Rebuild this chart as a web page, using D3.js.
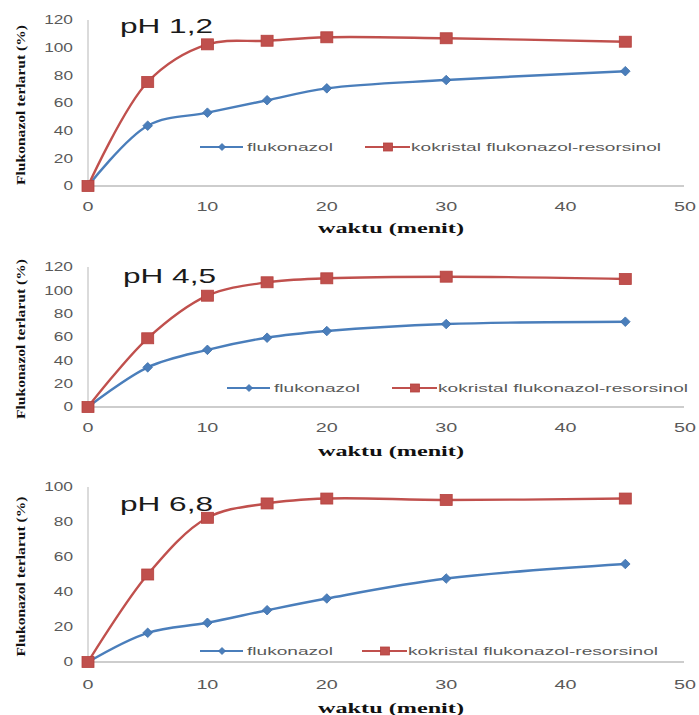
<!DOCTYPE html>
<html>
<head>
<meta charset="utf-8">
<script src="https://cdn.jsdelivr.net/npm/d3@7"></script>
<style>
  html, body { margin: 0; padding: 0; background: #fff; }
  svg { display: block; }
</style>
</head>
<body>
<svg id="chart" width="699" height="715"></svg>
<script>
// ---- data ----
const time = [0, 5, 10, 15, 20, 30, 45];
const flukonazol_pH12 = [0, 43.6, 53, 62, 70.6, 76.6, 83];
const kokristal_pH12 = [0, 75.2, 102.4, 105, 107.5, 106.8, 104.3];
const flukonazol_pH45 = [0, 34, 49, 59.4, 65.1, 71.1, 73.1];
const kokristal_pH45 = [0, 58.9, 95.4, 106.9, 110.3, 111.7, 109.7];
const flukonazol_pH68 = [0, 16.7, 22.4, 29.6, 36.3, 47.7, 56];
const kokristal_pH68 = [0, 50, 82.4, 90.6, 93.4, 92.6, 93.4];
const panelTitles = ["pH 1,2", "pH 4,5", "pH 6,8"];
const seriesNames = ["flukonazol", "kokristal flukonazol-resorsinol"];
const xTicks = [0, 10, 20, 30, 40, 50];
const yTicks120 = [0, 20, 40, 60, 80, 100, 120];
const yTicks100 = [0, 20, 40, 60, 80, 100];
const xTitle = "waktu  (menit)";
const yTitle = "Flukonazol terlarut (%)";

// ---- layout ----
const BLUE = "#4a7ebb", RED = "#c0504d";
const panels = [
  { title: panelTitles[0], blue: flukonazol_pH12, red: kokristal_pH12, yTicks: yTicks120, yMax: 120,
    y0: 186, y1: 20, titleX: 120, titleY: 33, legY: 147, legB: 200, legR: 365, xLabY: 211, xTitleY: 233 },
  { title: panelTitles[1], blue: flukonazol_pH45, red: kokristal_pH45, yTicks: yTicks120, yMax: 120,
    y0: 407, y1: 267, titleX: 123, titleY: 283, legY: 388, legB: 227, legR: 392, xLabY: 432, xTitleY: 456 },
  { title: panelTitles[2], blue: flukonazol_pH68, red: kokristal_pH68, yTicks: yTicks100, yMax: 100,
    y0: 662, y1: 487, titleX: 120, titleY: 511, legY: 651, legB: 200, legR: 362, xLabY: 689, xTitleY: 713 }
];

const svg = d3.select("#chart");
const x = d3.scaleLinear().domain([0, 50]).range([88, 685]);
const sans = "'Liberation Sans', Arial, sans-serif";
const serif = "'Liberation Serif', 'Times New Roman', serif";

function diamond(g, cx, cy, r) {
  g.append("path")
    .attr("d", `M${cx},${cy - r}L${cx + r},${cy}L${cx},${cy + r}L${cx - r},${cy}Z`)
    .attr("fill", BLUE).attr("stroke", "#3d6fa8").attr("stroke-width", 0.8);
}
function square(g, cx, cy, w, h) {
  g.append("rect").attr("x", cx - w / 2).attr("y", cy - h / 2).attr("width", w).attr("height", h)
    .attr("fill", RED).attr("stroke", "#b5403d").attr("stroke-width", 0.8);
}

panels.forEach(p => {
  const g = svg.append("g");
  const y = d3.scaleLinear().domain([0, p.yMax]).range([p.y0, p.y1]);

  // axes lines
  g.append("line").attr("x1", x(0)).attr("x2", x(0)).attr("y1", y(p.yMax)).attr("y2", y(0))
    .attr("stroke", "#c8c8c8").attr("stroke-width", 1.3);
  g.append("line").attr("x1", x(0)).attr("x2", x(50) - 1).attr("y1", y(0)).attr("y2", y(0))
    .attr("stroke", "#bdbdbd").attr("stroke-width", 1.5);

  // y tick labels
  g.selectAll(".yt").data(p.yTicks).enter().append("text")
    .attr("x", 73).attr("y", d => y(d)).attr("dy", "0.35em")
    .attr("text-anchor", "end")
    .attr("font-family", sans).attr("font-size", 12).attr("fill", "#595959")
    .attr("textLength", d => String(d).length * 9.6).attr("lengthAdjust", "spacingAndGlyphs")
    .text(d => d);

  // x tick labels
  g.selectAll(".xt").data(xTicks).enter().append("text")
    .attr("x", d => x(d)).attr("y", p.xLabY)
    .attr("text-anchor", "middle")
    .attr("font-family", sans).attr("font-size", 12).attr("fill", "#595959")
    .attr("textLength", d => String(d).length * 11).attr("lengthAdjust", "spacingAndGlyphs")
    .text(d => d);

  // x title
  g.append("text").attr("x", 391).attr("y", p.xTitleY).attr("text-anchor", "middle")
    .attr("font-family", serif).attr("font-weight", "bold").attr("font-size", 15).attr("fill", "#111")
    .attr("textLength", 146).attr("lengthAdjust", "spacingAndGlyphs")
    .text(xTitle);

  // y title
  const yc = (p.y0 + p.y1) / 2 + 2;
  g.append("text").attr("transform", `translate(25,${yc}) rotate(-90)`)
    .attr("text-anchor", "middle")
    .attr("font-family", serif).attr("font-weight", "bold").attr("font-size", 12.5).attr("fill", "#111")
    .attr("textLength", 160).attr("lengthAdjust", "spacingAndGlyphs")
    .text(yTitle);

  // panel title
  g.append("text").attr("x", p.titleX).attr("y", p.titleY)
    .attr("font-family", sans).attr("font-size", 21).attr("fill", "#1a1a1a")
    .attr("textLength", 93).attr("lengthAdjust", "spacingAndGlyphs")
    .text(p.title);

  // lines
  const line = d3.line().x((d, i) => x(time[i])).y(d => y(d)).curve(d3.curveCatmullRom.alpha(0.5));
  g.append("path").datum(p.blue).attr("d", line).attr("fill", "none")
    .attr("stroke", BLUE).attr("stroke-width", 2.4);
  g.append("path").datum(p.red).attr("d", line).attr("fill", "none")
    .attr("stroke", RED).attr("stroke-width", 2.4);

  p.blue.forEach((v, i) => diamond(g, x(time[i]), y(v), 4.8));
  p.red.forEach((v, i) => square(g, x(time[i]), y(v), 12, 11));

  // legend
  g.append("line").attr("x1", p.legB).attr("x2", p.legB + 43).attr("y1", p.legY).attr("y2", p.legY)
    .attr("stroke", BLUE).attr("stroke-width", 2.2);
  diamond(g, p.legB + 22, p.legY, 3.5);
  g.append("text").attr("x", p.legB + 47).attr("y", p.legY).attr("dy", "0.35em")
    .attr("font-family", sans).attr("font-size", 11.5).attr("fill", "#595959")
    .attr("textLength", 86).attr("lengthAdjust", "spacingAndGlyphs")
    .text(seriesNames[0]);

  g.append("line").attr("x1", p.legR).attr("x2", p.legR + 45).attr("y1", p.legY).attr("y2", p.legY)
    .attr("stroke", RED).attr("stroke-width", 2.2);
  square(g, p.legR + 23, p.legY, 9, 8);
  g.append("text").attr("x", p.legR + 46).attr("y", p.legY).attr("dy", "0.35em")
    .attr("font-family", sans).attr("font-size", 11.5).attr("fill", "#595959")
    .attr("textLength", 250).attr("lengthAdjust", "spacingAndGlyphs")
    .text(seriesNames[1]);
});
</script>
</body>
</html>
